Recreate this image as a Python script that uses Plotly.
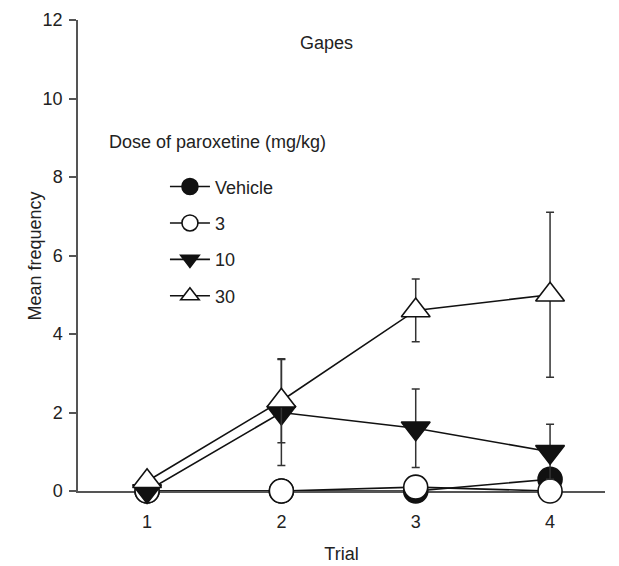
import plotly.graph_objects as go

trials = [1, 2, 3, 4]
series_names = ["Vehicle", "3", "10", "30"]
vehicle = [0.0, 0.0, 0.0, 0.3]
dose3 = [0.0, 0.0, 0.1, 0.0]
dose10 = [0.0, 2.0, 1.6, 1.0]
dose30 = [0.25, 2.3, 4.6, 5.0]
err_vehicle = [0, 0, 0, 0]
err3 = [0, 0, 0, 0]
err10 = [0, 1.35, 1.0, 0.7]
err30 = [0, 1.07, 0.8, 2.1]
y_ticks = [0, 2, 4, 6, 8, 10, 12]

FONT = "Liberation Sans, Arial, sans-serif"
INK = "#111111"
AX = "#555555"
TXT = "#222222"
FS = 18

specs = [
    (series_names[0], vehicle, err_vehicle, "circle", INK, 24),
    (series_names[1], dose3, err3, "circle", "white", 24),
    (series_names[2], dose10, err10, "triangle-down", INK, 25),
    (series_names[3], dose30, err30, "triangle-up", "white", 25),
]

fig = go.Figure()
for i, (name, ys, errs, sym, fill, sz) in enumerate(specs):
    fig.add_trace(go.Scatter(
        x=trials, y=ys, name=name, mode="lines+markers",
        legendgroup=f"g{i}",
        line=dict(color=INK, width=1.6),
        marker=dict(symbol=sym, size=sz, color=fill, line=dict(color=INK, width=1.6)),
        error_y=dict(type="data", array=errs, visible=any(e > 0 for e in errs),
                     color="#333333", thickness=1.5, width=4),
        cliponaxis=False,
    ))

fig.update_layout(
    width=619, height=566,
    margin=dict(l=78, r=14, t=20, b=75, autoexpand=False),
    plot_bgcolor="white", paper_bgcolor="white",
    font=dict(family=FONT, size=FS, color=TXT),
    showlegend=True,
    legend=dict(x=0.165, y=0.685, xanchor="left", yanchor="top",
                bgcolor="rgba(0,0,0,0)", tracegroupgap=10,
                font=dict(size=FS, family=FONT, color=TXT),
                itemwidth=40),
    xaxis=dict(range=[0.486, 4.409], tickvals=trials, ticktext=[str(t) for t in trials],
               showline=True, linecolor=AX, linewidth=1.5, ticks="outside",
               ticklen=7, tickcolor=AX, tickwidth=1.5, showgrid=False, zeroline=False,
               layer="below traces", ticklabelstandoff=7, tickfont=dict(size=FS),
               automargin=False,
               title=dict(text="Trial", font=dict(size=FS), standoff=16)),
    yaxis=dict(range=[0, 12], tickvals=y_ticks, showline=True, linecolor=AX, linewidth=1.5,
               ticks="outside", ticklen=7, tickcolor=AX, tickwidth=1.5, showgrid=False,
               zeroline=False, layer="below traces", ticklabelstandoff=3, tickfont=dict(size=FS),
               automargin=False),
    annotations=[
        dict(text="Mean frequency", x=-0.0816, y=0.5, xref="paper", yref="paper",
             xanchor="center", yanchor="middle", textangle=-90,
             showarrow=False, font=dict(size=FS)),
        dict(text="Gapes", x=0.4706, y=0.951, xref="paper", yref="paper",
             yanchor="middle", showarrow=False, font=dict(size=FS)),
        dict(text="Dose of paroxetine (mg/kg)", x=0.055, y=0.741, xref="paper", yref="paper",
             xanchor="left", yanchor="middle", showarrow=False, font=dict(size=FS)),
    ],
)

fig.write_html("out.html")
